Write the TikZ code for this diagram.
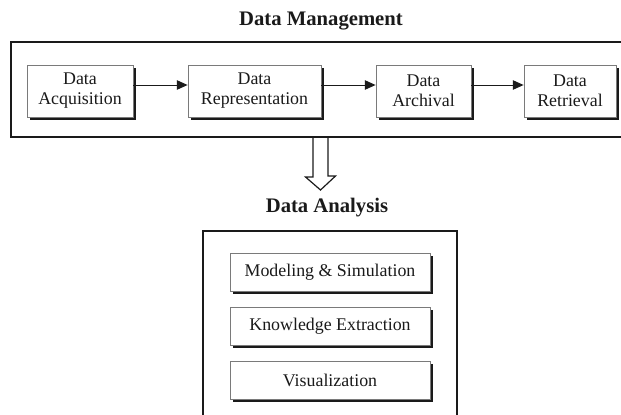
\documentclass[tikz,border=0pt]{standalone}
\usepackage{fontspec}
\setmainfont{Liberation Serif}
\usepackage{tikz}
\usetikzlibrary{arrows.meta,shadows,positioning}
\definecolor{boxline}{HTML}{7A7A7A}
\definecolor{ink}{HTML}{1A1A1A}

\begin{document}
\begin{tikzpicture}[x=0.75pt,y=0.75pt,yscale=-1,xscale=1,
  frame/.style={draw=ink, line width=1.5pt, inner sep=0pt},
  stage/.style={draw=boxline, line width=0.6pt, fill=white, text=ink, align=center,
    inner sep=0pt, font=\fontsize{13.4}{15}\selectfont,
    drop shadow={shadow xshift=1.9pt, shadow yshift=-1.9pt, fill=ink, opacity=1}},
  heading/.style={text=ink, font=\fontsize{15.5}{18}\selectfont\bfseries},
  flow/.style={draw=ink, line width=0.75pt, -{Triangle[length=8pt,width=7pt]}}]
\useasboundingbox (0,0) rectangle (621,414);

% Frames
\node[frame, minimum width=458.25pt, minimum height=71.25pt] (mgmt) at (316.5,89.5) {};
\node[frame, minimum width=190.5pt, minimum height=140.25pt] (anal) at (330,324.5) {};

% Titles
\node[heading] (mgmttitle) at (321,21) {Data Management};
\node[heading] (analtitle) at (327,208) {Data Analysis};

% Text Node
\node[stage, minimum width=79.5pt, minimum height=39pt] (acq) at (80,91) {Data\\Acquisition};
% Text Node
\node[stage, minimum width=99.75pt, minimum height=39pt] (rep) at (254.5,91) {Data\\Representation};
% Text Node
\node[stage, minimum width=71.25pt, minimum height=39pt] (arch) at (423.5,91) {Data\\Archival};
% Text Node
\node[stage, minimum width=69pt, minimum height=39pt] (ret) at (570,91) {Data\\Retrieval};

\draw[flow] ([yshift=-4.5pt]acq.east) -- ([yshift=-4.5pt]rep.west);
\draw[flow] ([yshift=-4.5pt]rep.east) -- ([yshift=-4.5pt]arch.west);
\draw[flow] ([yshift=-4.5pt]arch.east) -- ([yshift=-4.5pt]ret.west);

% hollow arrow
\coordinate (tip) at (320.5,190);
\draw[draw=ink, line width=0.9pt, line join=miter] ([xshift=-5.6pt]tip |- mgmt.south) -- ++(0,39) -- ++(-7.5,0) -- (tip) -- ++(15,-14) -- ++(-7.5,0) -- ++(0,-39);

% Text Node
\node[stage, minimum width=150pt, minimum height=28.5pt] (model) at (330,272) {Modeling \& Simulation};
% Text Node
\node[stage, minimum width=150pt, minimum height=28.5pt] (know) at (330,326) {Knowledge Extraction};
% Text Node
\node[stage, minimum width=150pt, minimum height=28.5pt] (vis) at (330,380) {Visualization};

\end{tikzpicture}
\end{document}
